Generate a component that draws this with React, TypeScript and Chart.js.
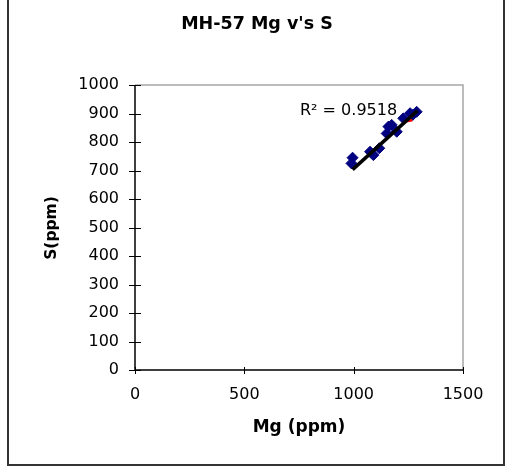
import React, { useEffect, useRef } from "react";
import { Chart, registerables } from "chart.js";

Chart.register(...registerables);

const mgValues = [995, 990, 1075, 1090, 1117, 1151, 1159, 1174, 1197, 1227, 1258, 1270, 1288];
const sValues = [745, 725, 766, 754, 778, 830, 854, 860, 836, 883, 901, 895, 906];
const trendMg = [995, 1292];
const trendS = [703, 910];
const redMg = [1232, 1268];
const redS = [872, 876];
const xTicks = [0, 500, 1000, 1500];
const yTicks = [0, 100, 200, 300, 400, 500, 600, 700, 800, 900, 1000];
const titleText = "MH-57 Mg v's S";
const xTitle = "Mg (ppm)";
const yTitle = "S(ppm)";
const r2Text = "R² = 0.9518";

const FONT = "'DejaVu Sans', sans-serif";

const decor = {
  id: "decor",
  beforeDatasetsDraw(chart: any) {
    const ctx = chart.ctx;
    const { left, right, top, bottom } = chart.chartArea;
    const xs = chart.scales.x;
    const ys = chart.scales.y;
    ctx.save();
    ctx.strokeStyle = "#333333";
    ctx.lineWidth = 2;
    ctx.beginPath();
    ctx.moveTo(8, 0);
    ctx.lineTo(8, 465);
    ctx.lineTo(504, 465);
    ctx.lineTo(504, 0);
    ctx.stroke();
    ctx.strokeStyle = "#a6a6a6";
    ctx.lineWidth = 1.5;
    ctx.beginPath();
    ctx.moveTo(left, top);
    ctx.lineTo(right, top);
    ctx.lineTo(right, bottom);
    ctx.stroke();
    ctx.strokeStyle = "#000000";
    ctx.lineWidth = 1.5;
    ctx.beginPath();
    ctx.moveTo(left, top);
    ctx.lineTo(left, bottom);
    ctx.lineTo(right, bottom);
    ctx.stroke();
    ctx.lineWidth = 1;
    ctx.beginPath();
    yTicks.forEach((v) => {
      const p = Math.round(ys.getPixelForValue(v)) + 0.5;
      ctx.moveTo(left - 6, p);
      ctx.lineTo(left + 6, p);
    });
    xTicks.forEach((v) => {
      const p = Math.round(xs.getPixelForValue(v)) + 0.5;
      ctx.moveTo(p, bottom - 3);
      ctx.lineTo(p, bottom + 4);
    });
    ctx.stroke();
    ctx.restore();
  },
  afterDraw(chart: any) {
    const ctx = chart.ctx;
    ctx.save();
    ctx.fillStyle = "#000000";
    ctx.textAlign = "center";
    ctx.textBaseline = "middle";
    ctx.font = `bold 17.5px ${FONT}`;
    ctx.fillText(titleText, 257, 24);
    ctx.font = `bold 17px ${FONT}`;
    ctx.fillText(xTitle, 299, 428);
    ctx.save();
    ctx.translate(52, 228);
    ctx.rotate(-Math.PI / 2);
    ctx.font = `bold 15.5px ${FONT}`;
    ctx.fillText(yTitle, 0, 0);
    ctx.restore();
    ctx.font = `16px ${FONT}`;
    ctx.textAlign = "left";
    ctx.textBaseline = "alphabetic";
    ctx.fillText(r2Text, 300, 115);
    ctx.restore();
  },
};

export default function App() {
  const ref = useRef<HTMLCanvasElement>(null);
  useEffect(() => {
    if (!ref.current) return;
    const chart = new Chart(ref.current, {
      type: "scatter",
      data: {
        datasets: [
          {
            label: "Trend",
            data: trendMg.map((x, i) => ({ x, y: trendS[i] })),
            showLine: true,
            borderColor: "#000000",
            borderWidth: 3.5,
            pointRadius: 0,
          },
          {
            label: "Red",
            data: redMg.map((x, i) => ({ x, y: redS[i] })),
            showLine: true,
            borderColor: "#ff0000",
            borderWidth: 2.5,
            pointRadius: 0,
          },
          {
            label: "S",
            data: mgValues.map((x, i) => ({ x, y: sValues[i] })),
            pointStyle: "rectRot",
            pointRadius: 5.5,
            backgroundColor: "#000080",
            borderColor: "#000080",
            borderWidth: 1,
          },
        ],
      },
      options: {
        animation: false,
        responsive: false,
        devicePixelRatio: 1,
        layout: { padding: { top: 85, right: 47, bottom: 59, left: 0 } },
        plugins: { legend: { display: false }, tooltip: { enabled: false }, title: { display: false } },
        scales: {
          x: {
            type: "linear",
            min: 0,
            max: 1500,
            border: { display: false },
            grid: { display: false, drawTicks: false },
            ticks: {
              stepSize: 500,
              padding: 15,
              autoSkip: false,
              maxRotation: 0,
              color: "#000000",
              font: { family: FONT, size: 16 },
              callback: (v: any) => String(v),
            },
            afterFit: (s: any) => {
              s.height = 40;
            },
          },
          y: {
            type: "linear",
            min: 0,
            max: 1000,
            border: { display: false },
            grid: { display: false, drawTicks: false },
            ticks: {
              stepSize: 100,
              padding: 16,
              autoSkip: false,
              color: "#000000",
              font: { family: FONT, size: 16 },
              callback: (v: any) => String(v),
            },
            afterFit: (s: any) => {
              s.width = 135;
            },
          },
        },
      },
      plugins: [decor],
    });
    return () => chart.destroy();
  }, []);
  return (
    <div style={{ position: "absolute", left: 0, top: 0, width: 510, height: 469, background: "#ffffff" }}>
      <canvas ref={ref} width={510} height={469} />
    </div>
  );
}
